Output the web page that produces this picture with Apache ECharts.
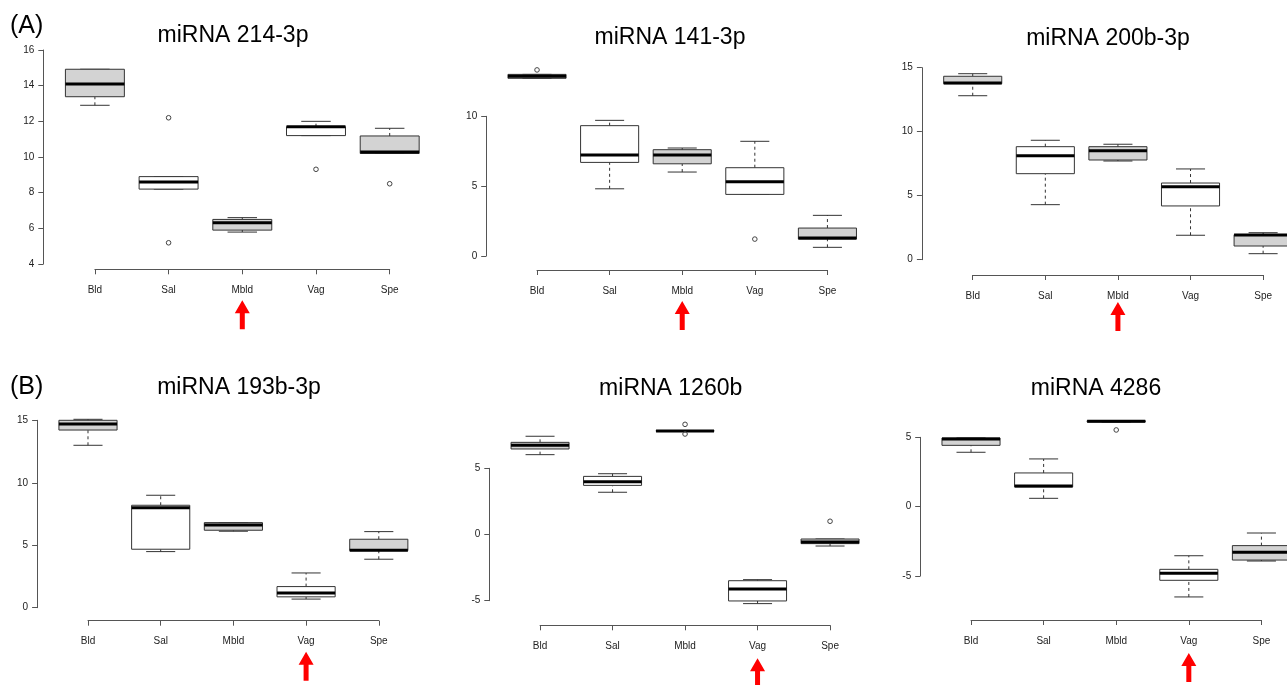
<!DOCTYPE html>
<html>
<head>
<meta charset="utf-8">
<script src="https://cdn.jsdelivr.net/npm/echarts@6/dist/echarts.min.js"></script>
<style>
html,body{margin:0;padding:0;background:#fff;}
#chart{width:1287px;height:685px;}
</style>
</head>
<body>
<div id="chart"></div>
<script>
// ---------- DATA ----------
const categories = ['Bld', 'Sal', 'Mbld', 'Vag', 'Spe'];
const titles = ['miRNA 214-3p', 'miRNA 141-3p', 'miRNA 200b-3p', 'miRNA 193b-3p', 'miRNA 1260b', 'miRNA 4286'];
const panelTags = ['(A)', '(B)'];
// box stats per category: [lower whisker, Q1, median, Q3, upper whisker]
const stats214 = [[12.9, 13.38, 14.09, 14.92, 14.92], [8.2, 8.2, 8.6, 8.9, 8.9], [5.79, 5.9, 6.31, 6.5, 6.6], [11.2, 11.2, 11.7, 11.7, 12.0], [10.2, 10.2, 10.28, 11.18, 11.61]];
const stats141 = [[12.72, 12.72, 12.86, 13.0, 13.0], [4.81, 6.7, 7.23, 9.33, 9.71], [6.01, 6.6, 7.23, 7.61, 7.73], [4.41, 4.41, 5.32, 6.32, 8.21], [0.62, 1.21, 1.28, 2.0, 2.91]];
const stats200b = [[12.81, 13.75, 13.8, 14.33, 14.53], [4.3, 6.72, 8.13, 8.83, 9.33], [7.71, 7.79, 8.52, 8.83, 9.02], [1.91, 4.2, 5.7, 5.99, 7.09], [0.47, 1.07, 1.93, 1.95, 2.11]];
const stats193b = [[13.0, 14.22, 14.7, 15.0, 15.08], [4.49, 4.68, 8.01, 8.2, 9.0], [6.12, 6.2, 6.62, 6.81, 6.81], [0.69, 0.87, 1.18, 1.69, 2.78], [3.88, 4.57, 4.6, 5.48, 6.09]];
const stats1260b = [[6.03, 6.46, 6.74, 6.96, 7.42], [3.19, 3.71, 3.99, 4.39, 4.59], [7.8, 7.8, 7.82, 7.85, 7.85], [-5.22, -5.02, -4.12, -3.49, -3.41], [-0.87, -0.69, -0.56, -0.34, -0.34]];
const stats4286 = [[3.92, 4.42, 4.88, 4.95, 4.95], [0.6, 1.42, 1.49, 2.43, 3.44], [6.1, 6.1, 6.15, 6.2, 6.2], [-6.51, -5.31, -4.81, -4.52, -3.54], [-3.92, -3.85, -3.29, -2.81, -1.9]];
// outliers: [category name, value]
const out214 = [['Sal', 12.2], ['Sal', 5.19], ['Vag', 9.31], ['Spe', 8.5]];
const out141 = [['Bld', 13.32], ['Vag', 1.21]];
const out200b = [];
const out193b = [];
const out1260b = [['Mbld', 8.32], ['Mbld', 7.59], ['Spe', 1.0]];
const out4286 = [['Mbld', 5.53]];
// y tick ranges: [min, max, step]
const yTicks214 = [4, 16, 2];
const yTicks141 = [0, 10, 5];
const yTicks200b = [0, 15, 5];
const yTicks193b = [0, 15, 5];
const yTicks1260b = [-5, 5, 5];
const yTicks4286 = [-5, 5, 5];
// highlighted (arrow) category per panel
const highlighted = ['Mbld', 'Mbld', 'Mbld', 'Vag', 'Vag', 'Vag'];

const allStats = [stats214, stats141, stats200b, stats193b, stats1260b, stats4286];
const allOut = [out214, out141, out200b, out193b, out1260b, out4286];
const allTicks = [yTicks214, yTicks141, yTicks200b, yTicks193b, yTicks1260b, yTicks4286];

// ---------- LAYOUT (pixels) ----------
const layout = [
  {left: 43.3, spacing: 73.7, top: 50.0, height: 214.0, xAxisY: 269.3, titleX: 233, titleCap: 23.3},
  {left: 486.2, spacing: 72.6, top: 116.3, height: 139.7, xAxisY: 270.0, titleX: 670, titleCap: 25},
  {left: 921.9, spacing: 72.6, top: 67.7, height: 192.0, xAxisY: 275.0, titleX: 1108, titleCap: 26.5},
  {left: 37.1, spacing: 72.7, top: 420.3, height: 187.4, xAxisY: 620.7, titleX: 239, titleCap: 375},
  {left: 489.3, spacing: 72.5, top: 468.3, height: 132.4, xAxisY: 625.3, titleX: 670.7, titleCap: 376.5},
  {left: 920.2, spacing: 72.6, top: 437.3, height: 138.7, xAxisY: 620.0, titleX: 1096, titleCap: 376.5}
];
const tagPos = [{left: 10, cap: 15}, {left: 10, cap: 376}];
const arrowOffset = [31, 31, 27, 31, 33, 33];

const FONT = '"Liberation Sans", Arial, sans-serif';
const GRAY = '#d3d3d3';
const boxFills = [GRAY, '#ffffff', GRAY, '#ffffff', GRAY];

const grids = [], xAxes = [], yAxes = [], series = [], titleList = [];

layout.forEach((L, p) => {
  const ticks = allTicks[p];
  const gMain = grids.length;
  grids.push({left: L.left, top: L.top, width: 5.4 * L.spacing, height: L.height, containLabel: false, outerBoundsMode: 'none'});
  xAxes.push({gridIndex: gMain, type: 'value', min: 0.3, max: 5.7, show: false});
  yAxes.push({
    gridIndex: gMain, type: 'value', min: ticks[0], max: ticks[1], interval: ticks[2],
    axisLine: {show: true, lineStyle: {color: '#555', width: 1}},
    axisTick: {show: true, length: 5, lineStyle: {color: '#555'}},
    axisLabel: {show: true, fontSize: 10, color: '#222', fontFamily: FONT, margin: 9},
    splitLine: {show: false}
  });
  const gX = grids.length;
  grids.push({left: L.left + 0.7 * L.spacing, top: L.xAxisY - 10, width: 4 * L.spacing, height: 10, containLabel: false, outerBoundsMode: 'none'});
  xAxes.push({
    gridIndex: gX, type: 'category', data: categories, boundaryGap: false, position: 'bottom',
    axisLine: {show: true, lineStyle: {color: '#555', width: 1}},
    axisTick: {show: true, length: 5, interval: 0, lineStyle: {color: '#555'}},
    axisLabel: {show: true, interval: 0, fontSize: 10, color: '#222', fontFamily: FONT, margin: 16},
    splitLine: {show: false}
  });
  yAxes.push({gridIndex: gX, type: 'value', min: 0, max: 1, show: false});

  // boxes
  const boxData = allStats[p].map((s, i) => [i + 1].concat(s).concat([i]));
  series.push({
    type: 'custom', xAxisIndex: gMain, yAxisIndex: gMain, clip: false, silent: true,
    data: boxData,
    encode: {x: 0, y: [1, 2, 3, 4, 5]},
    renderItem: function (params, api) {
      const x = api.value(0), lo = api.value(1), q1 = api.value(2), med = api.value(3), q3 = api.value(4), hi = api.value(5);
      const ci = api.value(6);
      const c = (xx, yy) => api.coord([xx, yy]);
      const children = [];
      const dash = {stroke: '#333', lineWidth: 1, lineDash: [3, 3]};
      const solid = {stroke: '#333', lineWidth: 1};
      if (hi > q3) {
        const a = c(x, q3), b = c(x, hi);
        children.push({type: 'line', shape: {x1: a[0], y1: a[1], x2: b[0], y2: b[1]}, style: dash});
      }
      if (lo < q1) {
        const a = c(x, lo), b = c(x, q1);
        children.push({type: 'line', shape: {x1: a[0], y1: a[1], x2: b[0], y2: b[1]}, style: dash});
      }
      [hi, lo].forEach(v => {
        const a = c(x - 0.2, v), b = c(x + 0.2, v);
        children.push({type: 'line', shape: {x1: a[0], y1: a[1], x2: b[0], y2: b[1]}, style: solid});
      });
      const tl = c(x - 0.4, q3), br = c(x + 0.4, q1);
      children.push({type: 'rect', shape: {x: tl[0], y: tl[1], width: br[0] - tl[0], height: br[1] - tl[1]},
        style: {fill: boxFills[ci], stroke: '#333', lineWidth: 1}});
      const m1 = c(x - 0.4, med), m2 = c(x + 0.4, med);
      children.push({type: 'line', shape: {x1: m1[0], y1: m1[1], x2: m2[0], y2: m2[1]}, style: {stroke: '#000', lineWidth: 3}});
      return {type: 'group', children: children};
    }
  });
  // outliers
  series.push({
    type: 'custom', xAxisIndex: gMain, yAxisIndex: gMain, clip: false, silent: true,
    data: allOut[p].map(o => [categories.indexOf(o[0]) + 1, o[1]]),
    encode: {x: 0, y: 1},
    renderItem: function (params, api) {
      const pt = api.coord([api.value(0), api.value(1)]);
      return {type: 'circle', shape: {cx: pt[0], cy: pt[1], r: 2.3}, style: {fill: 'none', stroke: '#444', lineWidth: 1}};
    }
  });
  // arrow
  const off = arrowOffset[p];
  series.push({
    type: 'custom', xAxisIndex: gX, yAxisIndex: gX, clip: false, silent: true,
    data: [[categories.indexOf(highlighted[p]), 0]],
    encode: {x: 0, y: 1},
    renderItem: function (params, api) {
      const pt = api.coord([api.value(0), 0]);
      const x = pt[0], t = pt[1] + off;
      return {type: 'polygon', shape: {points: [[x, t], [x + 7.5, t + 13], [x + 2.5, t + 13], [x + 2.5, t + 29], [x - 2.5, t + 29], [x - 2.5, t + 13], [x - 7.5, t + 13]]},
        style: {fill: '#ff0000'}};
    }
  });
  titleList.push({text: titles[p], left: L.titleX, top: L.titleCap + 1, textAlign: 'center', padding: 0,
    textStyle: {fontSize: 23, fontWeight: 'normal', color: '#000', fontFamily: FONT}});
});
panelTags.forEach((t, i) => {
  titleList.push({text: t, left: tagPos[i].left, top: tagPos[i].cap - 1, padding: 0,
    textStyle: {fontSize: 25, fontWeight: 'normal', color: '#000', fontFamily: FONT}});
});

const chart = echarts.init(document.getElementById('chart'), null, {renderer: 'canvas'});
chart.setOption({
  animation: false,
  backgroundColor: '#ffffff',
  title: titleList,
  grid: grids,
  xAxis: xAxes,
  yAxis: yAxes,
  series: series
});
</script>
</body>
</html>
